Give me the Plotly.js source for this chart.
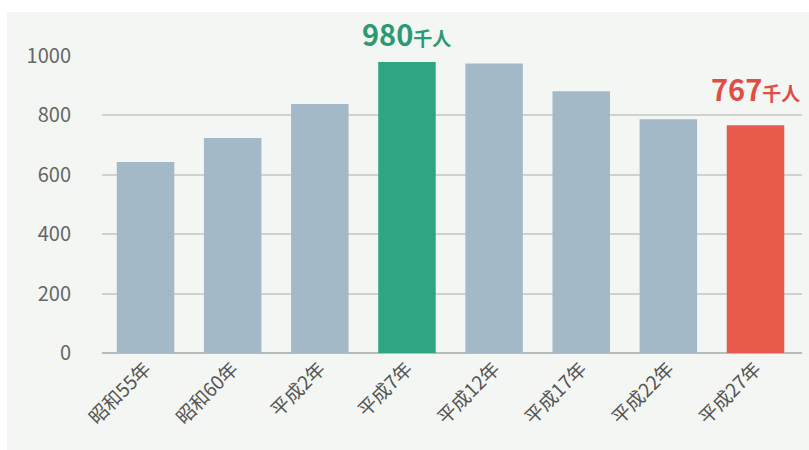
<!DOCTYPE html>
<html><head><meta charset="utf-8">
<script src="https://cdn.plot.ly/plotly-3.0.1.min.js"></script>
<style>html,body{margin:0;padding:0;background:#fff;}#chart{width:809px;height:450px;}</style>
</head><body><div id="chart"></div>
<script>
const categories = ["昭和55年","昭和60年","平成2年","平成7年","平成12年","平成17年","平成22年","平成27年"];
const values = [643, 724, 838, 980, 975, 881, 787, 767];
const barColors = ["#a3b9c8","#a3b9c8","#a3b9c8","#2fa683","#a3b9c8","#a3b9c8","#a3b9c8","#e85a4b"];
const yTicks = [0, 200, 400, 600, 800, 1000];
const peakIndex = 3, lastIndex = 7;
const unit = "千人";

const font = "'Noto Sans CJK JP', 'Noto Sans', sans-serif";
const trace = {
  type: 'bar', x: categories, y: values,
  marker: {color: barColors, line: {width: 0}},
  hoverinfo: 'skip'
};
function label(i, color, yshift) {
  return {
    x: categories[i], y: values[i], xref: 'x', yref: 'y',
    text: '<b>' + values[i] + '</b><span style="font-size:19px"><b>' + unit + '</b></span>',
    showarrow: false, yanchor: 'bottom', yshift: yshift,
    font: {family: font, size: 29, color: color}
  };
}
const layout = {
  width: 809, height: 450,
  margin: {l: 102, r: 7, t: 56, b: 97},
  paper_bgcolor: '#ffffff', plot_bgcolor: 'rgba(0,0,0,0)',
  bargap: 0.34,
  showlegend: false,
  font: {family: font, color: '#555'},
  xaxis: {
    tickangle: -45, tickfont: {size: 19, color: '#555'},
    showgrid: false, showline: false, ticks: '', zeroline: false
  },
  yaxis: {
    range: [0, 1000], tickvals: yTicks, ticktext: yTicks.map(String),
    tickfont: {size: 20, color: '#666'},
    showgrid: true, gridcolor: '#cfd2cf', gridwidth: 2,
    zeroline: true, zerolinecolor: '#b8bcb8', zerolinewidth: 2,
    ticklabelstandoff: 30, showline: false, ticks: ''
  },
  shapes: [{
    type: 'rect', xref: 'paper', yref: 'paper', layer: 'below',
    x0: -95/700, x1: 1.02, y0: -0.4, y1: 1 + 44/297,
    fillcolor: '#f3f6f2', line: {width: 0}
  }],
  annotations: [label(peakIndex, '#2a9a73', 6), label(lastIndex, '#e04d45', 14)]
};
Plotly.newPlot('chart', [trace], layout, {displayModeBar: false, staticPlot: true});
</script></body></html>
